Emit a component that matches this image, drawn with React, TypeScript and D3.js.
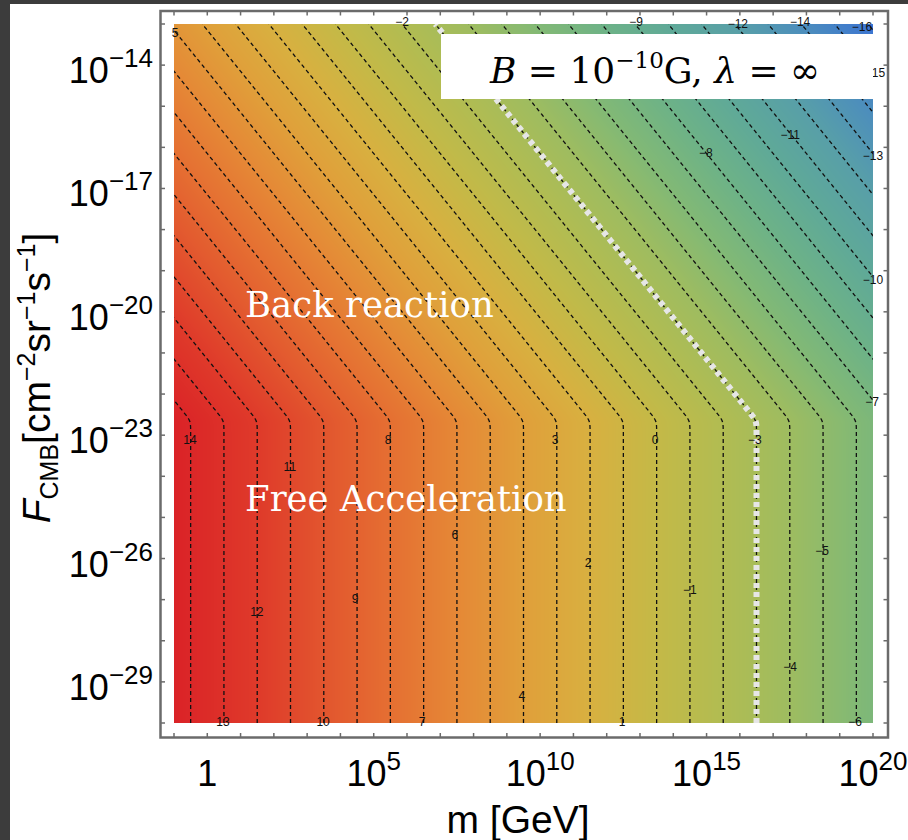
import React, { useMemo } from 'react';
import * as d3 from 'd3';

const W = 908;
const H = 840;

// axis extents (log10 values)
const xDomainLog = [-1, 20];
const yDomainLog = [-30, -13];
const xTickLabelExps = [0, 5, 10, 15, 20];
const yTickLabelExps = [-14, -17, -20, -23, -26, -29];

// contour levels of the plotted quantity (log10)
const contourLevels = [-16, -15, -14, -13, -12, -11, -10, -9, -8, -7, -6, -5, -4, -3, -2, -1, 0, 1, 2, 3, 4, 5, 6, 7, 8, 9, 10, 11, 12, 13, 14];
// in the free acceleration region, level L sits at log10 m = offset - L
const freeAccelOffset = 13.5;
// flux above which back reaction bends the contours
const kneeLogF = -22.65;
const kneeSharpness = 9;
const highlightLevel = -3;

// colour map of the level value
const colorStopValues = [14.6, 12, 10, 8, 6, 4, 2, 0, -2, -4, -6, -8, -10, -12, -14, -16.3];
const colorStopColors = ['#da2127', '#df3a2a', '#e2552e', '#e56f32', '#e58836', '#e09f3a', '#d8b040', '#c4b947', '#b1bc52', '#9ebc60', '#82b975', '#6db287', '#5fa998', '#589fa8', '#4c8dbd', '#3a72d4'];

// contour labels: text, log10 m, log10 F
const labelTexts = ['5', '−2', '−9', '−12', '−14', '−16', '−15', '−8', '−11', '−13', '−10', '−7', '14', '11', '8', '3', '0', '−3', '6', '2', '−5', '9', '−1', '12', '−4', '4', '13', '10', '7', '1', '−6'];
const labelLogM = [-0.97, 5.85, 12.88, 15.94, 17.81, 19.67, 20.06, 14.98, 17.51, 20.0, 20.0, 19.97, -0.52, 2.48, 5.43, 10.45, 13.45, 16.45, 7.44, 11.44, 18.47, 4.44, 14.5, 1.49, 17.51, 9.45, 0.47, 3.48, 6.45, 12.46, 19.46];
const labelLogF = [-13.22, -12.95, -12.95, -13.0, -12.95, -13.07, -14.19, -16.14, -15.7, -16.21, -19.23, -22.19, -23.12, -23.77, -23.12, -23.12, -23.12, -23.12, -25.43, -26.11, -25.82, -26.98, -26.77, -27.3, -28.64, -29.34, -29.98, -29.98, -29.98, -29.98, -29.98];

const PL = 174, PR = 873, PT = 24, PB = 723;
const FRAME = { x: 160.5, y: 11, w: 727.5, h: 726.5 };

const knee = (d: number) => Math.log10(1 + Math.pow(10, kneeSharpness * d)) / kneeSharpness;
const field = (lm: number, lf: number) => freeAccelOffset - lm - knee(lf - kneeLogF);

export default function App() {
  const x = d3.scaleLinear().domain(xDomainLog).range([PL, PR]);
  const y = d3.scaleLinear().domain(yDomainLog).range([PB, PT]);
  const color = d3.scaleLinear<string>().domain(colorStopValues).range(colorStopColors).interpolate(d3.interpolateRgb).clamp(true);

  const imgUrl = useMemo(() => {
    const w = PR - PL, h = PB - PT;
    const c = document.createElement('canvas');
    c.width = w; c.height = h;
    const ctx = c.getContext('2d');
    if (!ctx) return '';
    const id = ctx.createImageData(w, h);
    const N = 2048;
    const fmin = -17, fmax = 15;
    const lut = d3.range(N).map(i => d3.rgb(color(fmin + (fmax - fmin) * i / (N - 1))));
    for (let j = 0; j < h; j++) {
      const lf = y.invert(PT + j + 0.5);
      for (let i = 0; i < w; i++) {
        const lm = x.invert(PL + i + 0.5);
        const f = field(lm, lf);
        let k = Math.round((f - fmin) / (fmax - fmin) * (N - 1));
        k = Math.max(0, Math.min(N - 1, k));
        const col = lut[k];
        const p = (j * w + i) * 4;
        id.data[p] = col.r; id.data[p + 1] = col.g; id.data[p + 2] = col.b; id.data[p + 3] = 255;
      }
    }
    ctx.putImageData(id, 0, 0);
    return c.toDataURL();
  }, []);

  const fSteps = d3.range(yDomainLog[0], yDomainLog[1] + 0.001, 0.02);
  const contourPath = (L: number) => {
    const pts = fSteps.map(lf => [x(freeAccelOffset - L - knee(lf - kneeLogF)), y(lf)] as [number, number]);
    return d3.line()(pts) || '';
  };

  const xMinor = d3.range(xDomainLog[0], xDomainLog[1] + 1);
  const yMinor = d3.range(yDomainLog[0], yDomainLog[1] + 1);
  const tickLen = 4.5;
  const frameColor = '#6b6b6b';
  const sans = 'Liberation Sans, Arial, sans-serif';

  return (
    <svg width={W} height={H} style={{ position: 'absolute', left: 0, top: 0, background: '#fff' }}>
      <rect x={0} y={0} width={W} height={H} fill="#fff" />
      <rect x={0} y={0} width={10} height={H} fill="#3c3c3c" />
      <rect x={0} y={0} width={W} height={4} fill="#3c3c3c" />
      <defs>
        <clipPath id="plotclip">
          <rect x={PL} y={PT} width={PR - PL} height={PB - PT} />
        </clipPath>
      </defs>
      <image href={imgUrl} x={PL} y={PT} width={PR - PL} height={PB - PT} preserveAspectRatio="none" />
      <g clipPath="url(#plotclip)">
        {contourLevels.map(L => (
          <path key={L} d={contourPath(L)} fill="none" stroke="#111" strokeWidth={1.3} strokeDasharray="4,3" />
        ))}
        <path d={contourPath(highlightLevel)} fill="none" stroke="#e6e6e6" strokeWidth={6} strokeDasharray="5,4" />
      </g>
      {labelTexts.map((t, i) => (
        <text key={i} x={x(labelLogM[i])} y={y(labelLogF[i])} fontFamily={sans} fontSize={12} fill="#111" textAnchor="middle" dominantBaseline="central">{t}</text>
      ))}
      {/* legend box */}
      <rect x={441} y={34} width={PR - 441} height={65} fill="#fff" />
      <text x={655} y={83} textAnchor="middle" fontFamily="DejaVu Serif, serif" fontSize={36} fill="#000">
        <tspan fontStyle="italic">B</tspan>
        <tspan> = 10</tspan>
        <tspan fontSize={23} dy={-15}>−10</tspan>
        <tspan dy={15}>G, </tspan>
        <tspan fontStyle="italic">λ</tspan>
        <tspan> = ∞</tspan>
      </text>
      {/* region labels */}
      <text x={245} y={317} fontFamily="DejaVu Serif, serif" fontSize={35.5} fill="#fff">Back reaction</text>
      <text x={245} y={511} fontFamily="DejaVu Serif, serif" fontSize={35.5} fill="#fff">Free Acceleration</text>
      {/* frame */}
      <rect x={FRAME.x} y={FRAME.y} width={FRAME.w} height={FRAME.h} fill="none" stroke={frameColor} strokeWidth={2.5} />
      {xMinor.map(v => (
        <g key={'x' + v}>
          <line x1={x(v)} x2={x(v)} y1={FRAME.y + FRAME.h} y2={FRAME.y + FRAME.h - tickLen} stroke={frameColor} strokeWidth={1.5} />
          <line x1={x(v)} x2={x(v)} y1={FRAME.y} y2={FRAME.y + tickLen} stroke={frameColor} strokeWidth={1.5} />
        </g>
      ))}
      {yMinor.map(v => (
        <g key={'y' + v}>
          <line x1={FRAME.x} x2={FRAME.x + tickLen} y1={y(v)} y2={y(v)} stroke={frameColor} strokeWidth={1.5} />
          <line x1={FRAME.x + FRAME.w} x2={FRAME.x + FRAME.w - tickLen} y1={y(v)} y2={y(v)} stroke={frameColor} strokeWidth={1.5} />
        </g>
      ))}
      {/* x tick labels */}
      {xTickLabelExps.map(e => (
        <text key={'xl' + e} x={x(e)} y={786} textAnchor="middle" fontFamily={sans} fontSize={36} fill="#000">
          {e === 0 ? '1' : (<>
            <tspan>10</tspan>
            <tspan fontSize={26} dy={-16}>{e}</tspan>
          </>)}
        </text>
      ))}
      {/* y tick labels */}
      {yTickLabelExps.map(e => (
        <text key={'yl' + e} x={153} y={y(e) + 18} textAnchor="end" fontFamily={sans} fontSize={36} fill="#000">
          <tspan>10</tspan>
          <tspan fontSize={26} dy={-16}>{'−' + Math.abs(e)}</tspan>
        </text>
      ))}
      {/* axis titles */}
      <text x={518} y={833} textAnchor="middle" fontFamily={sans} fontSize={39} fill="#000">m [GeV]</text>
      <text transform="translate(50,378) rotate(-90)" textAnchor="middle" fontFamily={sans} fontSize={39} fill="#000">
        <tspan fontStyle="italic">F</tspan>
        <tspan fontSize={25} dy={8}>CMB</tspan>
        <tspan dy={-8}>[cm</tspan>
        <tspan fontSize={25} dy={-15}>−2</tspan>
        <tspan dy={15}>sr</tspan>
        <tspan fontSize={25} dy={-15}>−1</tspan>
        <tspan dy={15}>s</tspan>
        <tspan fontSize={25} dy={-15}>−1</tspan>
        <tspan dy={15}>]</tspan>
      </text>
    </svg>
  );
}
